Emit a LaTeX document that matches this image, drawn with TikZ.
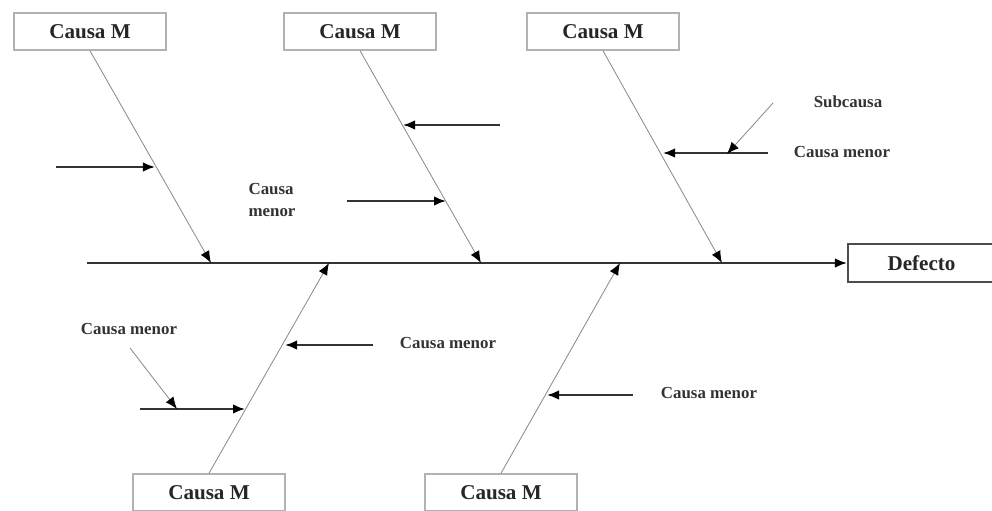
\documentclass[tikz,border=0pt]{standalone}
\usepackage{fontspec}
\setmainfont{Liberation Serif}
\usetikzlibrary{arrows.meta}

\tikzset{
  causa/.style={draw=gray!60, line width=0.9pt, minimum width=3.8cm,
    minimum height=0.93cm, inner sep=0pt,
    font=\fontsize{15}{17}\selectfont\bfseries, text=black!85},
  efecto/.style={draw=black!70, line width=1.3pt, minimum width=3.68cm,
    minimum height=0.93cm, inner sep=0pt,
    font=\fontsize{15}{17}\selectfont\bfseries, text=black!85},
  hueso/.style={draw=gray!90, line width=0.6pt, -{Latex[length=3mm,width=2.4mm,black]}},
  menor/.style={draw=black!80, line width=1.5pt, -{Latex[length=3mm,width=2.4mm,black]}},
  sub/.style={draw=gray!90, line width=0.6pt, -{Latex[length=3mm,width=2.4mm,black]}},
  lbl/.style={font=\fontsize{12}{13}\selectfont\bfseries, text=black!80, inner sep=0pt}
}

\begin{document}
\begin{tikzpicture}[x=0.025cm, y=-0.025cm]
\useasboundingbox (0,0) rectangle (992,511);

% causas principales
\node[causa] (m1) at (90,31.5) {Causa M};
\node[causa] (m2) at (360,31.5) {Causa M};
\node[causa] (m3) at (603,31.5) {Causa M};
\node[causa] (m4) at (209,492.5) {Causa M};
\node[causa] (m5) at (501,492.5) {Causa M};
\node[efecto] (defecto) at (921.5,263) {Defecto};

% espina
\coordinate (inicio) at (87,263);
\draw[line width=1.5pt, draw=black!80, -{Latex[length=3mm,width=2.4mm,black]}] (inicio) -- (defecto.west);

% puntos sobre la espina
\coordinate (e1) at (211,263);
\coordinate (e2) at (481,263);
\coordinate (e3) at (722,263);
\coordinate (e4) at (329,263);
\coordinate (e5) at (620,263);

\draw[hueso] (m1.south) -- (e1);
\draw[hueso] (m2.south) -- (e2);
\draw[hueso] (m3.south) -- (e3);
\draw[hueso] (m4.north) -- (e4);
\draw[hueso] (m5.north) -- (e5);

% causas menores
\coordinate (a1) at (56,167);   \coordinate (b1) at (155,167);
\coordinate (a2) at (500,125);  \coordinate (b2) at (403,125);
\coordinate (a3) at (347,201);  \coordinate (b3) at (446,201);
\coordinate (a4) at (768,153);  \coordinate (b4) at (663,153);
\coordinate (a5) at (373,345);  \coordinate (b5) at (285,345);
\coordinate (a6) at (140,409);  \coordinate (b6) at (245,409);
\coordinate (a7) at (633,395);  \coordinate (b7) at (547,395);
\foreach \i in {1,...,7}
  \draw[menor] (a\i) -- (b\i);

% subcausas
\coordinate (s1) at (773,103);  \coordinate (t1) at (727,154);
\coordinate (s2) at (130,348);  \coordinate (t2) at (177,409);
\draw[sub] (s1) -- (t1);
\draw[sub] (s2) -- (t2);

% textos
\node[lbl, align=left] (l1) at (272,200) {Causa\\[2pt]menor};
\node[lbl] (l2) at (848,102) {Subcausa};
\node[lbl] (l3) at (842,152) {Causa menor};
\node[lbl] (l4) at (129,329) {Causa menor};
\node[lbl] (l5) at (448,343) {Causa menor};
\node[lbl] (l6) at (709,393) {Causa menor};
\end{tikzpicture}
\end{document}
